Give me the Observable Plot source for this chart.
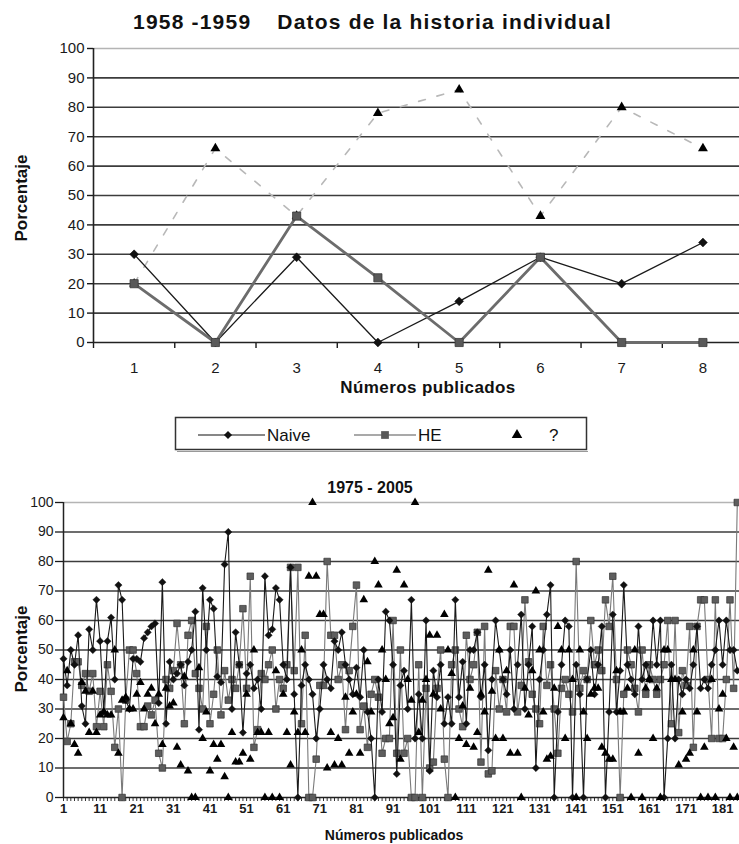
<!DOCTYPE html>
<html><head><meta charset="utf-8">
<script src="https://cdn.jsdelivr.net/npm/d3@7"></script>
<script src="https://cdn.jsdelivr.net/npm/@observablehq/plot@0.6"></script>
<style>
body{margin:0;background:#fff;font-family:"Liberation Sans",Arial,sans-serif;color:#111;}
#wrap{position:relative;width:739px;height:844px;overflow:hidden;background:#fff;}
.abs{position:absolute;}
.lbl{position:absolute;font-weight:bold;text-align:center;white-space:pre;line-height:20px;}
.rot{transform:rotate(-90deg);}
</style></head><body><div id="wrap">
<div id="topChart" class="abs" style="left:0;top:0"></div>
<div id="bottomChart" class="abs" style="left:0;top:460px"></div>
<div class="lbl" style="left:133px;top:11px;font-size:21px;letter-spacing:1.2px;text-align:left;line-height:22px;">1958 -1959<span style="margin-left:26px">Datos de la historia individual</span></div>
<div class="lbl rot" style="left:-78px;top:188px;width:200px;font-size:17px;">Porcentaje</div>
<div class="lbl" style="left:228px;top:378px;width:400px;font-size:17px;letter-spacing:0.4px;">Números publicados</div>
<div class="lbl" style="left:220px;top:478px;width:300px;font-size:16px;">1975 - 2005</div>
<div class="lbl rot" style="left:-78px;top:639px;width:200px;font-size:17px;">Porcentaje</div>
<div class="lbl" style="left:194px;top:825px;width:400px;font-size:14px;">Números publicados</div>
<svg id="legend" class="abs" style="left:0;top:410px" width="739" height="48"></svg>
</div>
<script>
// ---------- Data: 1958-1959 ----------
const topIssues = [1, 2, 3, 4, 5, 6, 7, 8];
const topNaive = [30, 0, 29, 0, 14, 29, 20, 34];
const topHE = [20, 0, 43, 22, 0, 29, 0, 0];
const topQ = [20, 66, 43, 78, 86, 43, 80, 66];
const yTicks = [0, 10, 20, 30, 40, 50, 60, 70, 80, 90, 100];

// ---------- Data: 1975-2005 ----------
const bottomNaive = [
  47, 38, 50, 45, 55, 31, 25, 57, 50, 67,
  53, 29, 53, 61, 40, 72, 67, 33, 30, 47,
  47, 46, 54, 56, 58, 59, 32, 73, 25, 46,
  40, 42, 45, 38, 46, 50, 63, 23, 71, 50,
  67, 64, 41, 39, 79, 90, 30, 56, 45, 22,
  42, 45, 37, 40, 30, 75, 55, 57, 71, 67,
  45, 40, 78, 35, 0, 38, 45, 40, 35, 20,
  30, 45, 40, 37, 53, 50, 56, 45, 40, 35,
  44, 34, 50, 29, 20, 0, 40, 29, 63, 60,
  45, 8, 38, 43, 30, 67, 20, 35, 20, 60,
  9, 43, 34, 45, 25, 34, 25, 67, 34, 46,
  25, 50, 50, 56, 34, 45, 16, 40, 60, 50,
  40, 35, 50, 30, 45, 62, 30, 45, 58, 10,
  40, 50, 62, 72, 0, 29, 45, 60, 58, 0,
  45, 35, 0, 40, 50, 35, 45, 58, 0, 29,
  62, 29, 43, 72, 45, 40, 35, 58, 40, 45,
  40, 60, 45, 60, 0, 20, 45, 20, 40, 35,
  40, 37, 45, 58, 37, 40, 37, 45, 50, 60,
  45, 60, 50, 50, 43
];
const bottomHE = [
  34, 19, 25, 46, 46, 38, 42, 36, 42, 24,
  36, 24, 45, 36, 17, 30, 0, 33, 50, 50,
  42, 24, 24, 31, 28, 33, 15, 10, 40, 37,
  43, 59, 45, 25, 55, 60, 42, 37, 30, 58,
  25, 35, 50, 28, 43, 33, 40, 37, 45, 64,
  37, 75, 17, 23, 42, 40, 45, 50, 30, 40,
  37, 45, 78, 43, 78, 25, 55, 0, 0, 13,
  38, 38, 80, 55, 55, 40, 45, 23, 43, 58,
  72, 23, 31, 17, 35, 40, 34, 15, 20, 20,
  60, 15, 50, 15, 20, 0, 0, 45, 0, 37,
  10, 12, 37, 50, 13, 0, 45, 50, 30, 24,
  55, 40, 45, 56, 12, 58, 8, 9, 43, 30,
  40, 29, 58, 58, 29, 38, 67, 46, 35, 30,
  25, 58, 38, 45, 30, 15, 37, 40, 35, 29,
  80, 37, 43, 40, 60, 45, 50, 43, 67, 58,
  75, 40, 0, 35, 50, 45, 37, 29, 50, 35,
  45, 40, 35, 40, 45, 60, 25, 60, 22, 43,
  38, 58, 17, 58, 67, 67, 40, 20, 67, 20,
  20, 40, 67, 37, 100
];
const bottomQ = [
  27, 43, 25, 18, 15, 39, 36, 22, 36, 22,
  28, 29, 28, 28, 50, 15, 33, 34, 30, 30,
  35, 39, 30, 35, 37, 25, 35, 18, 37, 31,
  32, 17, 11, 41, 9, 0, 0, 44, 20, 29,
  9, 18, 13, 18, 7, 0, 22, 12, 12, 15,
  35, 13, 50, 22, 22, 0, 22, 0, 43, 0,
  35, 22, 11, 29, 22, 50, 22, 75, 100, 75,
  62, 62, 10, 22, 11, 20, 11, 34, 15, 29,
  35, 15, 67, 46, 29, 80, 72, 50, 40, 25,
  27, 77, 13, 72, 40, 33, 100, 22, 33, 40,
  55, 35, 55, 30, 62, 50, 42, 0, 20, 31,
  18, 37, 17, 22, 35, 29, 77, 36, 20, 50,
  20, 43, 15, 72, 15, 0, 37, 28, 43, 70,
  50, 29, 13, 14, 37, 58, 50, 20, 50, 40,
  0, 50, 29, 20, 35, 37, 37, 17, 15, 13,
  13, 43, 29, 29, 37, 0, 50, 15, 0, 37,
  40, 20, 37, 0, 50, 50, 40, 40, 11, 29,
  13, 15, 50, 29, 0, 17, 0, 40, 0, 30,
  35, 20, 0, 17, 0
];
const bottomTickLabels = [1, 11, 21, 31, 41, 51, 61, 71, 81, 91, 101, 111, 121, 131, 141, 151, 161, 171, 181];

const seriesNames = ["Naive", "HE", "?"];

// ---------- Build rows ----------
const rows = (xs, vs) => vs.map((v, i) => ({x: xs[i], y: v}));
const tNaive = rows(topIssues, topNaive);
const tHE = rows(topIssues, topHE);
const tQ = rows(topIssues, topQ);
const bottomIssues = d3.range(1, bottomNaive.length + 1);
const bNaive = rows(bottomIssues, bottomNaive);
const bHE = rows(bottomIssues, bottomHE);
const bQ = rows(bottomIssues, bottomQ);

const FONT = "Liberation Sans, Arial, sans-serif";

// ---------- Top chart ----------
const topPlot = Plot.plot({
  width: 739, height: 400,
  marginTop: 48, marginBottom: 58, marginLeft: 93, marginRight: 0,
  style: {fontFamily: FONT, fontSize: "15px", color: "#1a1a1a", background: "transparent", overflow: "visible"},
  x: {type: "linear", domain: [0.5, 8.45], axis: null},
  y: {domain: [0, 100], axis: null},
  marks: [
    Plot.ruleY(yTicks.filter(d => d > 0 && d < 100), {stroke: "#3c3c3c", strokeWidth: 1.6}),
    Plot.ruleY([100], {stroke: "#b4b4b4", strokeWidth: 1.6}),
    Plot.axisY({ticks: yTicks, tickSize: 6, tickPadding: 3, label: null, strokeWidth: 1.4}),
    Plot.axisX({ticks: topIssues, tickSize: 0, tickPadding: 20, label: null}),
    Plot.axisX({ticks: [0.5, ...topIssues.map(d => d + 0.5)], tickSize: 6, tickFormat: () => "", label: null, strokeWidth: 1.4}),
    Plot.ruleY([0], {stroke: "#222", strokeWidth: 1.6}),
    Plot.ruleX([0.5], {stroke: "#222", strokeWidth: 1.6}),
    Plot.line(tQ, {x: "x", y: "y", stroke: "#b8b8b8", strokeWidth: 1.6, strokeDasharray: "7,12"}),
    Plot.dot(tQ, {x: "x", y: "y", symbol: "triangle", r: 3.7, fill: "#000", stroke: "none"}),
    Plot.line(tNaive, {x: "x", y: "y", stroke: "#1a1a1a", strokeWidth: 1.3}),
    Plot.dot(tNaive, {x: "x", y: "y", symbol: "diamond2", r: 4.0, fill: "#111", stroke: "#111", strokeWidth: 0.5}),
    Plot.line(tHE, {x: "x", y: "y", stroke: "#6c6c6c", strokeWidth: 2.8}),
    Plot.dot(tHE, {x: "x", y: "y", symbol: "square", r: 4.6, fill: "#595959", stroke: "#3a3a3a", strokeWidth: 0.8})
  ]
});
document.getElementById("topChart").appendChild(topPlot);

// ---------- Bottom chart ----------
const bottomPlot = Plot.plot({
  width: 739, height: 384,
  marginTop: 42, marginBottom: 47, marginLeft: 63, marginRight: 0,
  style: {fontFamily: FONT, fontSize: "14px", color: "#1a1a1a", background: "transparent", overflow: "visible"},
  x: {type: "linear", domain: [1, 185.6], axis: null},
  y: {domain: [0, 100], axis: null},
  marks: [
    Plot.ruleY(yTicks.filter(d => d > 0 && d < 100), {stroke: "#3c3c3c", strokeWidth: 1.5}),
    Plot.ruleY([100], {stroke: "#b4b4b4", strokeWidth: 1.5}),
    Plot.axisY({ticks: yTicks, tickSize: 8, tickPadding: 2, label: null, strokeWidth: 1.3}),
    Plot.axisX({ticks: bottomIssues, tickSize: 4, tickFormat: () => "", label: null, strokeWidth: 0.9}),
    Plot.axisX({ticks: bottomTickLabels, tickSize: 0, tickPadding: 6, label: null, fontSize: 13, fontWeight: "bold"}),
    Plot.ruleY([0], {stroke: "#222", strokeWidth: 1.5}),
    Plot.ruleX([1], {stroke: "#222", strokeWidth: 1.5}),
    Plot.line(bHE, {x: "x", y: "y", stroke: "#7a7a7a", strokeWidth: 1.1}),
    Plot.dot(bHE, {x: "x", y: "y", symbol: "square", r: 3.7, fill: "#5e5e5e", stroke: "#333", strokeWidth: 0.7}),
    Plot.line(bNaive, {x: "x", y: "y", stroke: "#1a1a1a", strokeWidth: 1.1}),
    Plot.dot(bNaive, {x: "x", y: "y", symbol: "diamond2", r: 3.3, fill: "#111", stroke: "#111", strokeWidth: 0.4}),
    Plot.dot(bQ, {x: "x", y: "y", symbol: "triangle", r: 3.2, fill: "#000", stroke: "none"})
  ]
});
document.getElementById("bottomChart").appendChild(bottomPlot);

// ---------- Legend ----------
const lg = d3.select("#legend");
lg.append("rect").attr("x", 175.5).attr("y", 7.5).attr("width", 411).attr("height", 32)
  .attr("fill", "#fff").attr("stroke", "#333").attr("stroke-width", 1.5);
lg.append("line").attr("x1", 177).attr("x2", 588).attr("y1", 41.5).attr("y2", 41.5).attr("stroke", "#999").attr("stroke-width", 1);
const items = [
  {name: seriesNames[0], x1: 198, x2: 265, mx: 228, sym: d3.symbolDiamond2, size: 42, fill: "#111", line: "#111", lw: 1.2, tx: 267},
  {name: seriesNames[1], x1: 354, x2: 416, mx: 385, sym: d3.symbolSquare, size: 60, fill: "#595959", line: "#555", lw: 1.2, tx: 418},
  {name: seriesNames[2], x1: null, x2: null, mx: 517, sym: d3.symbolTriangle, size: 48, fill: "#000", line: null, lw: 0, tx: 549}
];
for (const it of items) {
  if (it.x1 != null) lg.append("line").attr("x1", it.x1).attr("x2", it.x2).attr("y1", 25).attr("y2", 25).attr("stroke", it.line).attr("stroke-width", it.lw);
  lg.append("path").attr("d", d3.symbol(it.sym, it.size)()).attr("transform", `translate(${it.mx},25)`).attr("fill", it.fill);
  lg.append("text").attr("x", it.tx).attr("y", 25).attr("dy", "0.36em")
    .attr("font-family", FONT).attr("font-size", 17).attr("fill", "#111").text(it.name);
}
</script>
</body></html>
